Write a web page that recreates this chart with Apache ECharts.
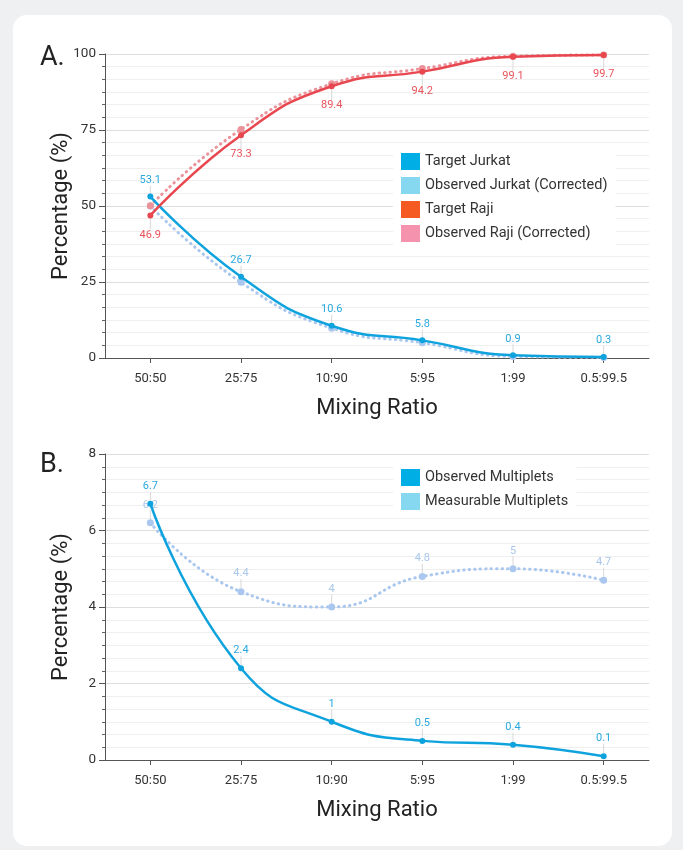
<!DOCTYPE html>
<html>
<head>
<meta charset="utf-8">
<script src="https://cdn.jsdelivr.net/npm/echarts@6/dist/echarts.min.js"></script>
<style>
  html, body { margin: 0; padding: 0; width: 683px; height: 850px; background: #eff0f2; overflow: hidden; }
  #card { position: absolute; left: 13px; top: 15px; width: 659px; height: 831px; background: #ffffff; border-radius: 14px; }
  #chart { position: absolute; left: 0; top: 0; width: 683px; height: 850px; }
</style>
</head>
<body>
<div id="card"></div>
<div id="chart"></div>
<script>
// ---- data ----
const ratios = ['50:50', '25:75', '10:90', '5:95', '1:99', '0.5:99.5'];
const targetJurkat = [53.1, 26.7, 10.6, 5.8, 0.9, 0.3];
const observedJurkat = [50.0, 24.9, 9.8, 5.0, 0.5, 0.2];
const targetRaji = [46.9, 73.3, 89.4, 94.2, 99.1, 99.7];
const observedRaji = [50.1, 75.2, 90.2, 95.2, 99.3, 99.7];
const observedMultiplets = [6.7, 2.4, 1, 0.5, 0.4, 0.1];
const measurableMultiplets = [6.2, 4.4, 4, 4.8, 5, 4.7];
const topYTicks = { min: 0, max: 100, interval: 25 };
const bottomYTicks = { min: 0, max: 8, interval: 2 };

const FONT = 'Roboto, "Noto Sans", sans-serif';
const C = {
  tJ: '#0fa3de', oJ: '#a9c7ef', tR: '#e8474f', oR: '#eb929a',
  lblBlue: '#2aa9e0', lblRed: '#e9535c', lblLight: '#a9c7ea',
  legTJ: '#00aee6', legOJ: '#86d8f1', legTR: '#f55a23', legOR: '#f592ae'
};

function xAxis(gridIndex) {
  return {
    type: 'category', gridIndex, data: ratios, boundaryGap: true,
    name: 'Mixing Ratio', nameLocation: 'middle', nameGap: 39, nameMoveOverlap: false,
    nameTextStyle: { fontFamily: FONT, fontSize: 22, color: '#222' },
    axisLine: { show: true, lineStyle: { color: '#555', width: 1 } },
    axisTick: { show: true, alignWithLabel: true, length: 5, lineStyle: { color: '#555' } },
    axisLabel: { fontFamily: FONT, fontSize: 13, color: '#333', margin: 14 },
    splitLine: { show: false }
  };
}
function yAxis(gridIndex, t) {
  return {
    type: 'value', gridIndex, min: t.min, max: t.max, interval: t.interval,
    name: 'Percentage (%)', nameLocation: 'middle', nameGap: 33, nameMoveOverlap: false,
    nameTextStyle: { fontFamily: FONT, fontSize: 22, color: '#222' },
    axisLine: { show: true, lineStyle: { color: '#555', width: 1 } },
    axisTick: { show: true, length: 6, lineStyle: { color: '#555' } },
    minorTick: { show: true, splitNumber: 6, length: 3, lineStyle: { color: '#666' } },
    axisLabel: { fontFamily: FONT, fontSize: 13.5, color: '#333', margin: 9 },
    splitLine: { show: true, lineStyle: { color: '#dedede', width: 1 } },
    minorSplitLine: { show: true, lineStyle: { color: '#efefef', width: 1 } }
  };
}
function lineSeries(name, data, xi, opt) {
  const s = {
    name, type: 'line', data, xAxisIndex: xi, yAxisIndex: xi, smooth: true,
    symbol: 'circle', symbolSize: opt.size || 6,
    itemStyle: { color: opt.color },
    lineStyle: opt.dotted
      ? { color: opt.color, width: 3, type: [0.5, 5], cap: 'round' }
      : { color: opt.color, width: 2.5 },
    z: opt.z || 2,
    label: { show: false }
  };
  if (opt.label) {
    s.label = {
      show: true, position: opt.label.pos, distance: opt.label.dist,
      color: opt.label.color, fontFamily: FONT, fontSize: 11
    };
    s.labelLine = { show: true, lineStyle: { color: '#d8d8d8', width: 1 } };
    s.labelLayout = { dy: opt.label.pos === 'top' ? -3 : 3 };
  }
  return s;
}

const chart = echarts.init(document.getElementById('chart'), null, { renderer: 'canvas' });
chart.setOption({
  backgroundColor: 'transparent',
  animation: false,
  textStyle: { fontFamily: FONT },
  grid: [
    { left: 105, right: 34, top: 54, height: 304 },
    { left: 105, right: 34, top: 454, height: 306 }
  ],
  xAxis: [xAxis(0), xAxis(1)],
  yAxis: [yAxis(0, topYTicks), yAxis(1, bottomYTicks)],
  legend: [
    {
      orient: 'vertical', left: 393, top: 146, padding: [7, 8], backgroundColor: '#ffffff',
      icon: 'rect', itemWidth: 19, itemHeight: 17, itemGap: 7,
      textStyle: { fontFamily: FONT, fontSize: 14.5, color: '#333' },
      data: [
        { name: 'Target Jurkat', itemStyle: { color: C.legTJ } },
        { name: 'Observed Jurkat (Corrected)', itemStyle: { color: C.legOJ } },
        { name: 'Target Raji', itemStyle: { color: C.legTR } },
        { name: 'Observed Raji (Corrected)', itemStyle: { color: C.legOR } }
      ]
    },
    {
      orient: 'vertical', left: 393, top: 462, padding: [7, 8], backgroundColor: '#ffffff',
      icon: 'rect', itemWidth: 19, itemHeight: 17, itemGap: 7,
      textStyle: { fontFamily: FONT, fontSize: 14.5, color: '#333' },
      data: [
        { name: 'Observed Multiplets', itemStyle: { color: C.legTJ } },
        { name: 'Measurable Multiplets', itemStyle: { color: C.legOJ } }
      ]
    }
  ],
  graphic: [
    { type: 'text', left: 40, top: 45, style: { text: 'A.', fontFamily: FONT, fontSize: 27, fill: '#222' } },
    { type: 'text', left: 40, top: 452, style: { text: 'B.', fontFamily: FONT, fontSize: 27, fill: '#222' } }
  ],
  series: [
    lineSeries('Observed Jurkat (Corrected)', observedJurkat, 0, { color: C.oJ, dotted: true, size: 7, z: 1 }),
    lineSeries('Observed Raji (Corrected)', observedRaji, 0, { color: C.oR, dotted: true, size: 7, z: 1 }),
    lineSeries('Target Jurkat', targetJurkat, 0, { color: C.tJ, z: 3, label: { pos: 'top', dist: 5, color: C.lblBlue } }),
    lineSeries('Target Raji', targetRaji, 0, { color: C.tR, z: 3, label: { pos: 'bottom', dist: 8, color: C.lblRed } }),
    lineSeries('Measurable Multiplets', measurableMultiplets, 1, { color: C.oJ, dotted: true, size: 7, z: 1, label: { pos: 'top', dist: 6, color: C.lblLight } }),
    lineSeries('Observed Multiplets', observedMultiplets, 1, { color: C.tJ, z: 3, label: { pos: 'top', dist: 6, color: C.lblBlue } })
  ]
});
</script>
</body>
</html>
